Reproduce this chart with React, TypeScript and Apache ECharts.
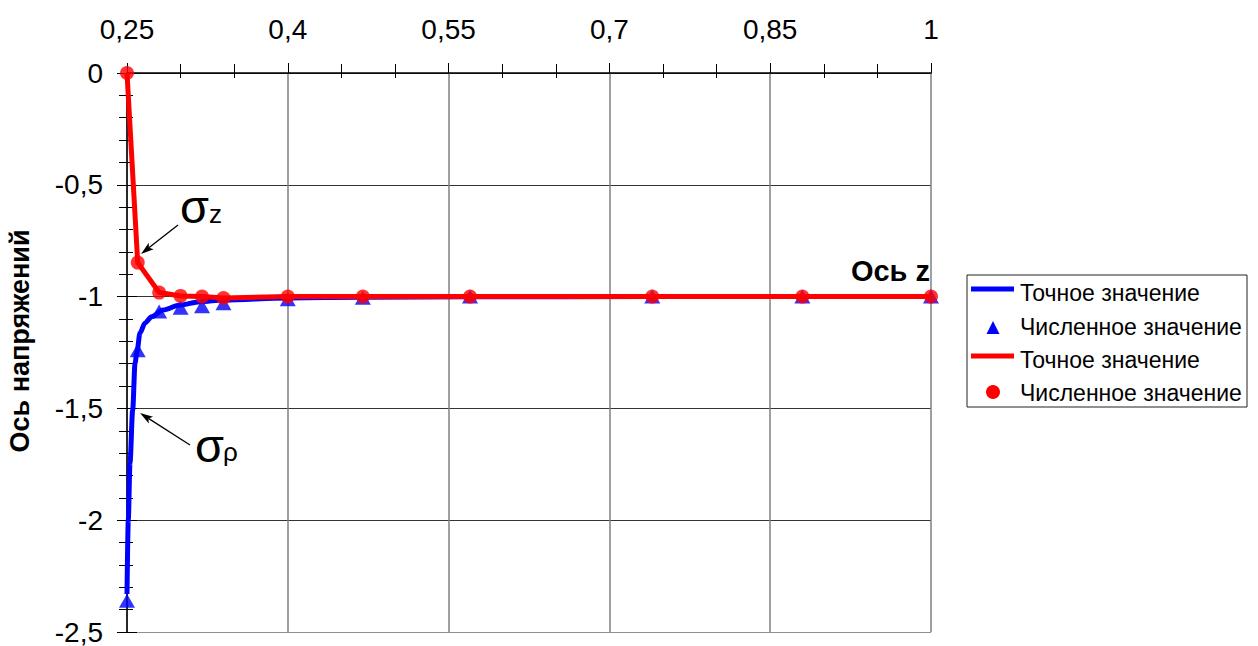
import React, { useEffect, useRef } from "react";
import * as echarts from "echarts";

// z coordinates of computed nodes
const zNodes = [0.25, 0.26, 0.28, 0.3, 0.32, 0.34, 0.4, 0.47, 0.57, 0.74, 0.88, 1.0];
// numerical sigma_rho (blue triangles)
const sigmaRhoNum = [-2.36, -1.24, -1.067, -1.05, -1.043, -1.03, -1.012, -1.005, -1.0, -1.0, -1.0, -1.0];
// numerical sigma_z (red circles)
const sigmaZNum = [0, -0.848, -0.982, -0.997, -1.0, -1.006, -1.0, -1.0, -1.0, -1.0, -1.0, -1.0];
// exact sigma_z (red line), read at nodes
const sigmaZExact = [0, -0.848, -0.982, -0.997, -1.0, -1.006, -1.0, -1.0, -1.0, -1.0, -1.0, -1.0];
// exact sigma_rho curve (blue line)
const exactRhoZ = [0.25, 0.2512, 0.2528, 0.2553, 0.2575, 0.2593, 0.2621, 0.2668, 0.273, 0.2836, 0.2994, 0.318, 0.34, 0.4, 0.47, 0.57, 0.74, 0.88, 1.0];
const exactRhoS = [-2.33, -2.0, -1.744, -1.507, -1.297, -1.248, -1.163, -1.118, -1.09, -1.06, -1.038, -1.023, -1.015, -1.006, -1.003, -1.001, -1.0, -1.0, -1.0];

const legendNames = ["Точное значение", "Численное значение", "Точное значение", "Численное значение"];
const xAxisTitle = "Ось z";
const yAxisTitle = "Ось напряжений";

const FONT = "'Liberation Sans', Arial, sans-serif";
const BLUE = "#0000ff";
const RED = "#ff0000";

const fmt = (v: number) => String(Math.round(v * 1000) / 1000).replace(".", ",");

function arrow(x1: number, y1: number, x2: number, y2: number) {
  const dx = x2 - x1, dy = y2 - y1;
  const L = Math.sqrt(dx * dx + dy * dy);
  const ux = dx / L, uy = dy / L;
  const hl = 13, hw = 4;
  const bx = x2 - ux * hl, by = y2 - uy * hl;
  return [
    { type: "line", shape: { x1, y1, x2: bx + ux * 3, y2: by + uy * 3 }, style: { stroke: "#000", lineWidth: 1.3 } },
    {
      type: "polygon",
      shape: { points: [[x2, y2], [bx - uy * hw, by + ux * hw], [bx + ux * 3, by + uy * 3], [bx + uy * hw, by - ux * hw]] },
      style: { fill: "#000" },
    },
  ];
}

export default function App() {
  const ref = useRef<HTMLDivElement>(null);
  useEffect(() => {
    document.body.style.margin = "0";
    const chart = echarts.init(ref.current!, null, { renderer: "svg" });
    const lblStyle = { fontSize: 28, fontFamily: FONT, color: "#000" };
    const legendRows = [293, 327, 360, 393];
    const option: any = {
      animation: false,
      grid: { left: 127, top: 73, right: 327, bottom: 14, containLabel: false },
      xAxis: [
        {
          type: "value",
          position: "top",
          min: 0.25,
          max: 1,
          interval: 0.15,
          axisLine: { show: true, onZero: false, lineStyle: { color: "#000", width: 1.5 } },
          axisTick: { show: true, inside: false, length: 10, lineStyle: { color: "#000", width: 1 } },
          minorTick: { show: true, splitNumber: 3, length: 9, lineStyle: { color: "#000", width: 1 } },
          axisLabel: { ...lblStyle, margin: 30, formatter: fmt },
          splitLine: { show: true, lineStyle: { color: "#808080", width: 1.5 } },
        },
        {
          type: "value",
          position: "top",
          min: 0.25,
          max: 1,
          interval: 0.15,
          axisLine: { show: false },
          axisTick: { show: false, inside: true, length: 5 },
          minorTick: { show: true, splitNumber: 3, length: 5, lineStyle: { color: "#000", width: 1 } },
          axisLabel: { show: false },
          splitLine: { show: false },
        },
      ],
      yAxis: [
        {
          type: "value",
          position: "left",
          min: -2.5,
          max: 0,
          interval: 0.5,
          axisLine: { show: true, onZero: false, lineStyle: { color: "#000", width: 1.5 } },
          axisTick: { show: true, inside: false, length: 10, lineStyle: { color: "#000", width: 1 } },
          minorTick: { show: true, splitNumber: 5, length: 8, lineStyle: { color: "#000", width: 1 } },
          axisLabel: { ...lblStyle, margin: 24, formatter: fmt },
          splitLine: { show: true, lineStyle: { color: ["#909090", "#333", "#333", "#333", "#333", "#333"], width: 1 } },
        },
        {
          type: "value",
          position: "left",
          min: -2.5,
          max: 0,
          interval: 0.5,
          axisLine: { show: false },
          axisTick: { show: true, inside: true, length: 10, lineStyle: { color: "#000", width: 1 } },
          minorTick: { show: true, splitNumber: 5, length: 6, lineStyle: { color: "#000", width: 1 } },
          axisLabel: { show: false },
          splitLine: { show: false },
        },
      ],
      series: [
        {
          name: legendNames[0],
          type: "line",
          data: exactRhoZ.map((z, i) => [z, exactRhoS[i]]),
          smooth: 0.3,
          smoothMonotone: "x",
          showSymbol: false,
          symbol: "none",
          lineStyle: { color: BLUE, width: 5 },
          z: 2,
        },
        {
          name: legendNames[1],
          type: "scatter",
          data: zNodes.map((z, i) => [z, sigmaRhoNum[i]]),
          symbol: "triangle",
          symbolSize: [16, 14],
          itemStyle: { color: BLUE },
          z: 3,
        },
        {
          name: legendNames[2],
          type: "line",
          data: zNodes.map((z, i) => [z, sigmaZExact[i]]),
          showSymbol: false,
          symbol: "none",
          lineStyle: { color: RED, width: 5 },
          z: 4,
        },
        {
          name: legendNames[3],
          type: "scatter",
          data: zNodes.map((z, i) => [z, sigmaZNum[i]]),
          symbol: "circle",
          symbolSize: 14,
          itemStyle: { color: RED },
          z: 5,
        },
      ],
      graphic: [
        // axis titles
        {
          type: "text",
          x: 20,
          y: 341,
          rotation: Math.PI / 2,
          style: { text: yAxisTitle, font: `bold 27px ${FONT}`, fill: "#000", align: "center", verticalAlign: "middle" },
        },
        {
          type: "text",
          x: 930,
          y: 271,
          style: { text: xAxisTitle, font: `bold 29px ${FONT}`, fill: "#000", align: "right", verticalAlign: "middle" },
        },
        // sigma labels
        { type: "text", x: 180, y: 206, style: { text: "σ", font: `47px ${FONT}`, fill: "#000", verticalAlign: "middle" } },
        { type: "text", x: 209, y: 214, style: { text: "z", font: `26px ${FONT}`, fill: "#000", verticalAlign: "middle" } },
        { type: "text", x: 195, y: 445, style: { text: "σ", font: `47px ${FONT}`, fill: "#000", verticalAlign: "middle" } },
        { type: "text", x: 223, y: 452, style: { text: "ρ", font: `26px ${FONT}`, fill: "#000", verticalAlign: "middle" } },
        ...arrow(178, 225, 141, 254),
        ...arrow(190, 445, 140, 413),
        // legend
        { type: "rect", shape: { x: 967, y: 275, width: 280, height: 132 }, style: { fill: "#fff", stroke: "#222", lineWidth: 1 } },
        { type: "line", shape: { x1: 971, y1: 289, x2: 1014, y2: 289 }, style: { stroke: BLUE, lineWidth: 5 } },
        { type: "polygon", shape: { points: [[993, 321], [986.5, 334], [999.5, 334]] }, style: { fill: BLUE } },
        { type: "line", shape: { x1: 971, y1: 356, x2: 1014, y2: 356 }, style: { stroke: RED, lineWidth: 5 } },
        { type: "circle", shape: { cx: 993, cy: 392, r: 7 }, style: { fill: RED } },
        ...legendNames.map((n, i) => ({
          type: "text",
          x: 1020,
          y: legendRows[i],
          style: { text: n, font: `23px ${FONT}`, fill: "#000", verticalAlign: "middle" },
        })),
      ],
    };
    chart.setOption(option);
    return () => chart.dispose();
  }, []);
  return <div ref={ref} style={{ width: 1258, height: 646 }} />;
}
